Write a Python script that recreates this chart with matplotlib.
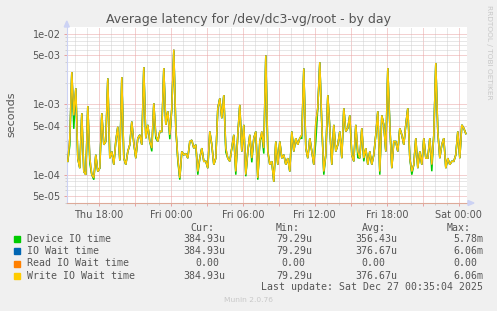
import matplotlib
matplotlib.use("Agg")
import matplotlib.pyplot as plt
import matplotlib.dates as mdates
from matplotlib.ticker import FixedLocator, FuncFormatter, NullFormatter
from matplotlib.patches import Polygon, Rectangle
import numpy as np
import pandas as pd

W, H = 497, 311

# ---------------- data ----------------
title = "Average latency for /dev/dc3-vg/root - by day"
ylabel = "seconds"
series_names = ["Device IO time", "IO Wait time", "Read IO Wait time", "Write IO Wait time"]
series_colors = ["#00CC00", "#0066B3", "#FF8000", "#FFCC00"]
stat_headers = ["Cur:", "Min:", "Avg:", "Max:"]
stats_cur = ["384.93u", "384.93u", "0.00", "384.93u"]
stats_min = ["79.29u", "79.29u", "0.00", "79.29u"]
stats_avg = ["356.43u", "376.67u", "0.00", "376.67u"]
stats_max = ["5.78m", "6.06m", "0.00", "6.06m"]
last_update = "Last update: Sat Dec 27 00:35:04 2025"
footer = "Munin 2.0.76"
side_text = "RRDTOOL / TOBI OETIKER"

y_ticks = [5e-5, 1e-4, 5e-4, 1e-3, 5e-3, 1e-2]

start_time = "2025-12-25 15:25"
n_points = 200

# latency in microseconds, one value every 10 minutes
write_us = [
    155, 330, 2900, 700, 1700, 170, 124, 750, 111, 100,
    950, 172, 100, 90, 192, 111, 124, 750, 267, 297,
    2350, 172, 214, 139, 300, 480, 160, 2450, 172, 139,
    214, 267, 570, 280, 172, 331, 369, 267, 3400, 331,
    512, 297, 239, 1040, 369, 297, 412, 412, 3300, 512,
    800, 369, 883, 6060, 459, 172, 90, 214, 192, 200,
    172, 297, 310, 239, 267, 111, 172, 239, 155, 155,
    124, 412, 267, 139, 172, 883, 1220, 637, 1360, 239,
    172, 155, 239, 369, 111, 369, 985, 214, 512, 100,
    214, 369, 172, 331, 412, 90, 297, 412, 239, 5000,
    214, 139, 155, 79.29, 297, 139, 297, 172, 192, 139,
    172, 111, 412, 214, 331, 267, 331, 369, 3260, 239,
    172, 331, 214, 139, 550, 900, 4000, 512, 111, 192,
    1360, 459, 139, 512, 214, 267, 412, 172, 883, 412,
    459, 700, 192, 155, 512, 214, 172, 459, 172, 239,
    139, 214, 139, 192, 369, 800, 111, 700, 512, 214,
    3300, 512, 124, 297, 297, 214, 459, 369, 267, 512,
    883, 172, 111, 139, 331, 124, 214, 139, 331, 172,
    172, 331, 139, 369, 3900, 412, 172, 267, 331, 124,
    172, 139, 155, 155, 192, 412, 172, 512, 459, 384.93,
]
iowait_us = list(write_us)
read_us = [0.0] * n_points
device_us = [
    155, 260, 2900, 450, 1700, 170, 124, 750, 111, 100,
    950, 145, 100, 85, 192, 111, 124, 750, 267, 297,
    2350, 172, 214, 139, 300, 480, 160, 2450, 172, 139,
    214, 267, 570, 280, 172, 331, 369, 267, 3400, 331,
    512, 297, 215, 1040, 330, 297, 412, 412, 3300, 512,
    800, 320, 883, 5780, 459, 160, 85, 214, 192, 200,
    172, 297, 310, 239, 267, 100, 172, 239, 155, 155,
    124, 412, 267, 139, 172, 883, 1220, 637, 1360, 210,
    172, 155, 239, 369, 100, 369, 985, 214, 512, 95,
    214, 369, 150, 331, 412, 85, 297, 380, 200, 5000,
    214, 139, 155, 79.29, 297, 139, 297, 172, 192, 139,
    172, 111, 412, 214, 331, 267, 331, 330, 3260, 239,
    172, 331, 214, 139, 300, 900, 4000, 512, 100, 192,
    1360, 459, 139, 512, 214, 267, 412, 172, 883, 412,
    459, 700, 192, 155, 512, 175, 172, 459, 155, 239,
    139, 214, 139, 192, 369, 800, 100, 700, 512, 214,
    3300, 512, 124, 297, 297, 214, 459, 369, 267, 512,
    883, 172, 100, 139, 331, 124, 214, 139, 331, 172,
    172, 331, 112, 369, 3900, 412, 172, 267, 331, 124,
    172, 139, 155, 155, 192, 412, 172, 512, 459, 384.93,
]

# ---------------- figure ----------------
FONT_COL = "#555555"
MAJ_COL = "#E8A3A3"
MIN_COL = "#D0D0D0"
AXIS_COL = "#CCD2F4"

fig = plt.figure(figsize=(W / 100, H / 100), dpi=100, facecolor="#F0F0F0")


def fx(x):
    return x / W


def fy(y):
    return 1 - y / H


ax = fig.add_axes([fx(67), fy(203), 400 / W, 176 / H])
ax.set_facecolor("white")

times = pd.date_range(start_time, periods=n_points, freq="10min").to_pydatetime()

all_series = [device_us, iowait_us, read_us, write_us]
for vals, col in zip(all_series, series_colors):
    arr = np.array(vals, dtype=float) * 1e-6
    arr = np.where(arr > 0, arr, np.nan)
    ax.plot(times, arr, color=col, lw=1.1, solid_joinstyle="miter", zorder=3)

ax.set_yscale("log")
ax.set_ylim(3.95e-5, 1.27e-2)
x0 = pd.Timestamp("2025-12-25 15:21").to_pydatetime()
x1 = pd.Timestamp("2025-12-27 00:41").to_pydatetime()
ax.set_xlim(x0, x1)

# y ticks
ax.yaxis.set_major_locator(FixedLocator(y_ticks))
ax.yaxis.set_major_formatter(FuncFormatter(lambda v, p: f"{v:.0e}"))
minors = []
for d in [-5, -4, -3, -2]:
    for k in [2, 3, 4, 6, 7, 8, 9]:
        v = k * 10.0 ** d
        if 3.95e-5 < v < 1.27e-2:
            minors.append(v)
ax.yaxis.set_minor_locator(FixedLocator(minors))
ax.yaxis.set_minor_formatter(NullFormatter())

# x ticks
ax.xaxis.set_major_locator(mdates.HourLocator(byhour=range(0, 24, 3)))
ax.xaxis.set_minor_locator(mdates.HourLocator())


def xfmt(v, p):
    d = mdates.num2date(v)
    if d.hour % 6 == 0:
        return d.strftime("%a %H:%M")
    return ""


ax.xaxis.set_major_formatter(FuncFormatter(xfmt))

ax.grid(True, which="major", color=MAJ_COL, lw=0.72, ls=(0, (1, 1)))
ax.grid(True, which="minor", color=MIN_COL, lw=0.72, ls=(0, (1, 1)))
ax.set_axisbelow(True)

ax.tick_params(axis="both", which="major", labelsize=7, labelcolor=FONT_COL,
               color=MAJ_COL, length=2.2, width=0.72)
ax.tick_params(axis="both", which="minor", color=MIN_COL, length=1.5, width=0.72)
ax.tick_params(axis="y", which="major", pad=2.4)
ax.tick_params(axis="x", which="major", pad=2.5)

for s in ["top", "right"]:
    ax.spines[s].set_visible(False)
ax.spines["left"].set_color(AXIS_COL)
ax.spines["left"].set_linewidth(0.8)
ax.spines["bottom"].set_color("#DDAA99")
ax.spines["bottom"].set_linewidth(0.8)

# arrows
fig.patches.append(Polygon([(fx(64.3), fy(27)), (fx(69.3), fy(27)), (fx(66.8), fy(21))],
                           closed=True, transform=fig.transFigure, color=AXIS_COL, zorder=5))
fig.patches.append(Polygon([(fx(468), fy(200.5)), (fx(468), fy(205.5)), (fx(474), fy(203))],
                           closed=True, transform=fig.transFigure, color=AXIS_COL, zorder=5))

# texts
fig.text(fx(248.5), fy(19), title, ha="center", va="center", fontsize=9, color=FONT_COL)
fig.text(fx(11), fy(114.5), ylabel, ha="center", va="center", rotation=90,
         fontsize=8, color=FONT_COL)
fig.text(fx(488.5), fy(5), side_text, ha="center", va="top", rotation=270,
         fontsize=5.3, color="#C8C8C8")

MONO = "DejaVu Sans Mono"
LFS = 7.15
header_x = [190, 275.7, 361.7, 446.7]
for hx, h in zip(header_x, stat_headers):
    fig.text(fx(hx), fy(228.3), h, ha="left", va="center", family=MONO, fontsize=LFS, color=FONT_COL)

row_y = [239.3, 251.3, 263.5, 275.6]
value_right = [225.3, 312, 397.3, 483.3]
zero_right = [219.5, 305.5, 385.7, 477.3]
for i in range(4):
    yy = row_y[i]
    fig.patches.append(Rectangle((fx(14), fy(yy + 3)), 6 / W, 6 / H, transform=fig.transFigure,
                                 color=series_colors[i], zorder=5))
    fig.text(fx(26.7), fy(yy), series_names[i], ha="left", va="center", family=MONO,
             fontsize=LFS, color=FONT_COL)
    cols = [stats_cur[i], stats_min[i], stats_avg[i], stats_max[i]]
    for j, c in enumerate(cols):
        r = zero_right[j] if c == "0.00" else value_right[j]
        fig.text(fx(r), fy(yy), c, ha="right", va="center", family=MONO,
                 fontsize=LFS, color=FONT_COL)

fig.text(fx(483), fy(287.5), last_update, ha="right", va="center", family=MONO,
         fontsize=LFS, color=FONT_COL)
fig.text(fx(248), fy(300.5), footer, ha="center", va="center", fontsize=5.4, color="#C8C8C8")

fig.savefig("out.png", dpi=100, facecolor=fig.get_facecolor())
